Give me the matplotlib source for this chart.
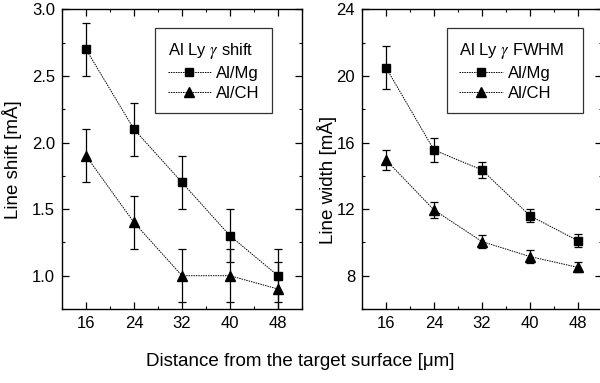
import numpy as np
import matplotlib
matplotlib.use("Agg")
import matplotlib.pyplot as plt
from matplotlib.ticker import MultipleLocator, FormatStrFormatter
from matplotlib.lines import Line2D

plt.rcParams['font.family'] = ['Liberation Sans', 'DejaVu Sans']
plt.rcParams['mathtext.fontset'] = 'stix'

# distances from the target surface [um]
distance = [16, 24, 32, 40, 48]

# line shift [mA]
shift_mg = [2.7, 2.1, 1.7, 1.3, 1.0]
shift_mg_err = [0.2, 0.2, 0.2, 0.2, 0.2]
shift_ch = [1.9, 1.4, 1.0, 1.0, 0.9]
shift_ch_err = [0.2, 0.2, 0.2, 0.2, 0.2]

# line width (FWHM) [mA]
width_mg = [20.5, 15.55, 14.35, 11.6, 10.1]
width_mg_err = [1.3, 0.7, 0.5, 0.4, 0.4]
width_ch = [14.95, 11.95, 10.05, 9.15, 8.5]
width_ch_err = [0.6, 0.5, 0.4, 0.4, 0.3]

fig = plt.figure(figsize=(6, 3.83), dpi=100)
ax1 = fig.add_axes([0.1033, 0.1932, 0.4, 0.7825])
ax2 = fig.add_axes([0.6033, 0.1932, 0.4, 0.7825])

dots = (0, (1.5, 1))
line_kw = dict(color='black', ls=dots, lw=0.7, ecolor='black',
               elinewidth=0.9, capsize=3, capthick=0.9, mfc='black', mec='black')


def draw(ax, mg, mg_err, ch, ch_err, title, anchor):
    ax.errorbar(distance, mg, yerr=mg_err, marker='s', ms=5.5, **line_kw)
    ax.errorbar(distance, ch, yerr=ch_err, marker='^', ms=6.5, **line_kw)
    ax.set_xlim(12, 52)
    ax.set_xticks(distance)
    ax.xaxis.set_minor_locator(MultipleLocator(4))
    ax.tick_params(which='both', direction='in', top=True, right=True, labelsize=12)
    ax.tick_params(which='major', length=5, width=0.9, pad=5)
    ax.tick_params(which='minor', length=2.5, width=0.8)
    for s in ax.spines.values():
        s.set_linewidth(1.0)
    handles = [Line2D([], [], color='black', ls=dots, lw=0.7, marker='s', ms=5.5),
               Line2D([], [], color='black', ls=dots, lw=0.7, marker='^', ms=6.5)]
    leg = ax.legend(handles, ['Al/Mg', 'Al/CH'], title=title, loc='upper right',
                    bbox_to_anchor=anchor, fontsize=12, title_fontsize=12,
                    alignment='left', fancybox=False, edgecolor='black',
                    handlelength=2.6, handletextpad=0.3, borderpad=0.75,
                    labelspacing=0.3, borderaxespad=0)
    leg.get_frame().set_linewidth(0.9)
    return leg


draw(ax1, shift_mg, shift_mg_err, shift_ch, shift_ch_err,
     r'Al Ly $\gamma$ shift  ', (0.875, 0.9376))
ax1.set_ylim(0.75, 3.0)
ax1.yaxis.set_major_locator(MultipleLocator(0.5))
ax1.yaxis.set_minor_locator(MultipleLocator(0.25))
ax1.yaxis.set_major_formatter(FormatStrFormatter('%.1f'))
ax1.set_ylabel('Line shift [mÅ]', fontsize=13.5)
ax1.yaxis.set_label_coords(-0.167, 0.5)

draw(ax2, width_mg, width_mg_err, width_ch, width_ch_err,
     r'Al Ly $\gamma$ FWHM  ', (0.921, 0.9376))
ax2.set_ylim(6, 24)
ax2.yaxis.set_major_locator(MultipleLocator(4))
ax2.yaxis.set_minor_locator(MultipleLocator(2))
ax2.set_ylabel('Line width [mÅ]', fontsize=13.5)
ax2.yaxis.set_label_coords(-0.104, 0.43)

fig.text(0.5, 0.055, 'Distance from the target surface [μm]', ha='center', va='center',
         fontsize=13.5)

fig.savefig('out.png', dpi=100)
